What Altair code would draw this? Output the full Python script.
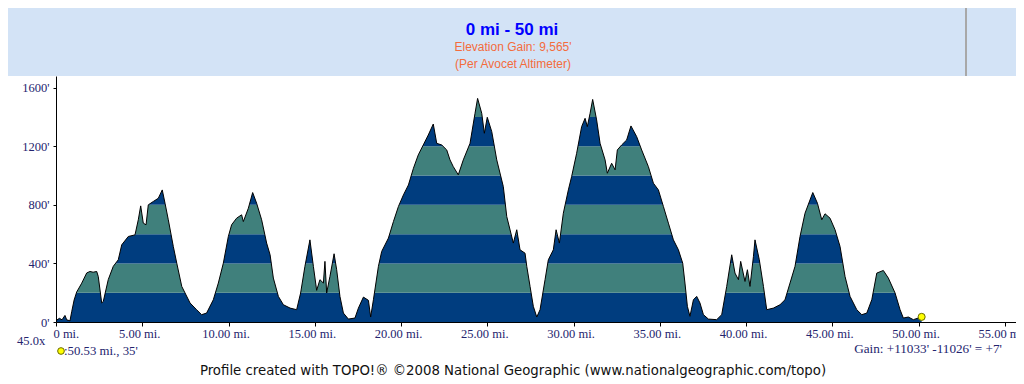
import altair as alt
import pandas as pd

# ---- profile (miles, feet) ----
MILES = [0.00, 0.20, 0.35, 0.52, 0.62, 0.81, 0.91, 1.05, 1.20, 1.49, 1.78, 1.97, 2.15, 2.36, 2.45,
         2.65, 2.74, 3.03, 3.32, 3.61, 3.81, 4.19, 4.58, 4.77, 4.91, 5.06, 5.22, 5.35, 5.64, 5.93,
         6.16, 6.32, 6.51, 6.80, 7.00, 7.29, 7.77, 8.15, 8.44, 8.73, 9.12, 9.41, 9.70, 9.99, 10.18,
         10.47, 10.76, 10.86, 11.15, 11.40, 11.63, 11.92, 12.21, 12.41, 12.60, 12.89, 13.18, 13.57,
         13.95, 14.18, 14.43, 14.72, 14.92, 15.11, 15.30, 15.50, 15.59, 15.69, 15.88, 16.12, 16.27,
         16.46, 16.66, 16.95, 17.33, 17.53, 17.82, 18.11, 18.24, 18.40, 18.69, 18.88, 19.27, 19.56,
         19.85, 20.14, 20.43, 20.72, 21.00, 21.29, 21.58, 21.87, 22.07, 22.36, 22.65, 22.84, 23.03,
         23.32, 23.61, 24.00, 24.29, 24.44, 24.68, 24.83, 25.00, 25.26, 25.55, 25.93, 26.13, 26.51,
         26.71, 26.90, 27.19, 27.29, 27.48, 27.67, 27.87, 28.06, 28.35, 28.54, 28.83, 28.99, 29.18,
         29.41, 29.70, 29.89, 30.18, 30.47, 30.67, 30.80, 30.96, 31.11, 31.34, 31.54, 31.83, 31.96,
         32.21, 32.41, 32.54, 32.79, 33.08, 33.33, 33.66, 33.95, 34.34, 34.63, 34.92, 35.21, 35.50,
         35.79, 36.08, 36.33, 36.46, 36.60, 36.75, 36.95, 37.14, 37.33, 37.53, 37.82, 38.30, 38.59,
         38.88, 39.17, 39.36, 39.56, 39.69, 39.94, 40.08, 40.23, 40.43, 40.52, 40.77, 41.01, 41.20,
         41.59, 41.97, 42.26, 42.55, 42.84, 43.13, 43.42, 43.87, 44.14, 44.39, 44.58, 44.87, 45.16,
         45.45, 45.74, 46.03, 46.42, 46.71, 47.00, 47.29, 47.58, 47.96, 48.25, 48.64, 48.93, 49.12,
         49.41, 49.70, 50.18]
ELEV = [10, 25, 15, 45, 15, 8, 70, 150, 205, 265, 335, 345, 340, 345, 311,
        130, 140, 290, 380, 425, 527, 584, 595, 698, 793, 675, 664, 800, 823, 845,
        902, 811, 698, 516, 402, 243, 130, 84, 50, 61, 152, 266, 402, 584, 664,
        709, 732, 686, 777, 884, 811, 698, 539, 459, 300, 175, 118, 95,
        84, 198, 380, 561, 380, 216, 289, 266, 414, 198, 311, 466, 357,
        175, 61, 20, 27, 95, 170, 148, 34, 152, 380, 482, 573, 686,
        789, 868, 936, 1050, 1141, 1209, 1277, 1352, 1220, 1209, 1175, 1107, 1061,
        1005, 1107, 1220, 1425, 1527, 1425, 1289, 1398, 1300, 1107, 925, 720, 539,
        630, 493, 470, 380, 243, 107, 34, 84, 289, 425, 493, 630, 539,
        743, 902, 993, 1152, 1334, 1391, 1334, 1425, 1520, 1380, 1220, 1107, 1016,
        1084, 1039, 1175, 1209, 1243, 1339, 1266, 1175, 1061, 948, 902, 789, 675,
        561, 493, 402, 266, 107, 39, 152, 175, 130, 50, 20, 16, 50,
        243, 459, 334, 289, 414, 277, 357, 243, 448, 561, 425, 243, 84,
        95, 118, 152, 266, 380, 584, 743, 884, 811, 698, 739, 709, 630,
        516, 311, 175, 84, 50, 61, 152, 334, 352, 300, 198, 84, 27,
        34, 16, 35]

BAND_LO = [0, 200, 400, 600, 800, 1000, 1200, 1400]
BAND_HI = [200, 400, 600, 800, 1000, 1200, 1400, 1600]
BAND_KIND = ["dark", "teal", "dark", "teal", "dark", "teal", "dark", "teal"]

X_TICKS = [0, 5, 10, 15, 20, 25, 30, 35, 40, 45, 50, 55]
Y_TICKS = [0, 200, 400, 600, 800, 1000, 1200, 1400, 1600]
Y_TOP = 1680

TITLE = "0 mi - 50 mi"
SUB1 = "Elevation Gain: 9,565'"
SUB2 = "(Per Avocet Altimeter)"
SCALE_TXT = "45.0x"
CURSOR_TXT = ":50.53 mi., 35'"
GAIN_TXT = "Gain: +11033' -11026' = +7'"
CREDIT_TXT = "Profile created with TOPO!\u00ae \u00a92008 National Geographic (www.nationalgeographic.com/topo)"

DARK = "#003D7F"
TEAL = "#40807C"
HEADER = "#D3E3F6"
NAVY = "#24246E"

prof = pd.DataFrame({"mile": MILES, "elev": ELEV, "top": [Y_TOP] * len(MILES)})
endpt = prof.tail(1)
bands = pd.DataFrame({"lo": BAND_LO, "hi": BAND_HI, "kind": BAND_KIND,
                      "x0": [MILES[0]] * len(BAND_LO), "x1": [MILES[-1]] * len(BAND_LO)})

W, H = 960, 246
xscale = alt.Scale(domain=[0, 55.65], nice=False, zero=False)
yscale = alt.Scale(domain=[0, Y_TOP], nice=False)

xaxis = alt.Axis(values=X_TICKS,
                 labelExpr="datum.value == 0 ? '0 mi.' : format(datum.value, '.2f') + ' mi.'",
                 labelFont="Liberation Serif", labelFontSize=12.5, labelColor=NAVY,
                 labelAlign={"condition": {"test": "datum.value == 0", "value": "left"}, "value": "center"},
                 labelOffset=-3, labelPadding=1, labelFlush=False, labelOverlap=False,
                 tickColor="#000000", tickSize=4, domainColor="#000000", domainWidth=1,
                 grid=False, title=None, zindex=1)
yaxis = alt.Axis(values=Y_TICKS, labelExpr="datum.value + \"'\"",
                 labelFont="Liberation Serif", labelFontSize=12.5, labelColor=NAVY,
                 labelPadding=4, tickColor="#000000", tickSize=3,
                 domainColor="#000000", domainWidth=1, grid=False, title=None, zindex=1)

one = alt.Data(values=[{}])

header = alt.Chart(one).mark_rect(color=HEADER).encode(
    x=alt.value(-48), x2=alt.value(W), y=alt.value(-68), y2=alt.value(0))
divider = alt.Chart(one).mark_rule(color="#A8A8A8", strokeWidth=2).encode(
    x=alt.value(910), y=alt.value(-68), y2=alt.value(0))

band_layer = alt.Chart(bands).mark_rect().encode(
    x=alt.X("x0:Q", scale=xscale, axis=xaxis),
    x2="x1:Q",
    y=alt.Y("lo:Q", scale=yscale, axis=yaxis),
    y2="hi:Q",
    color=alt.Color("kind:N", scale=alt.Scale(domain=["dark", "teal"], range=[DARK, TEAL]), legend=None),
)
sky = alt.Chart(prof).mark_area(color="white", opacity=1).encode(
    x=alt.X("mile:Q", scale=xscale), y=alt.Y("elev:Q", scale=yscale), y2="top:Q")
sky_edge = alt.Chart(endpt).mark_rule(color="white", strokeWidth=3).encode(
    x=alt.X("mile:Q", scale=xscale), y=alt.Y("elev:Q", scale=yscale), y2="top:Q")
outline = alt.Chart(prof).mark_line(color="#000000", strokeWidth=1).encode(
    x=alt.X("mile:Q", scale=xscale), y=alt.Y("elev:Q", scale=yscale))
enddot = alt.Chart(endpt).mark_point(filled=True, fill="#FFFF00", stroke="#6A6A00",
                                      strokeWidth=1, opacity=1, size=50).encode(
    x=alt.X("mile:Q", scale=xscale), y=alt.Y("elev:Q", scale=yscale))


def txt(s, x, y, **kw):
    return alt.Chart(one).mark_text(text=s, **kw).encode(x=alt.value(x), y=alt.value(y))


title = txt(TITLE, 456, -46, font="Liberation Sans", fontSize=17, fontWeight="bold",
            color="#0000FF", align="center", baseline="middle")
sub1 = txt(SUB1, 457, -29, font="Liberation Sans", fontSize=12, color="#F46C3C",
           align="center", baseline="middle")
sub2 = txt(SUB2, 457, -12, font="Liberation Sans", fontSize=12, color="#F46C3C",
           align="center", baseline="middle")
scale_t = txt(SCALE_TXT, -39, 265, font="Liberation Serif", fontSize=12.5, color=NAVY,
              align="left", baseline="middle")
legdot = alt.Chart(one).mark_point(filled=True, fill="#FFFF00", stroke="#6A6A00", strokeWidth=1,
                                   opacity=1, size=45).encode(x=alt.value(5), y=alt.value(275))
cursor_t = txt(CURSOR_TXT, 8, 275, font="Liberation Serif", fontSize=12.8, color=NAVY,
               align="left", baseline="middle")
gain_t = txt(GAIN_TXT, 946, 273, font="Liberation Serif", fontSize=13.2, color=NAVY,
             align="right", baseline="middle")
credit_t = txt(CREDIT_TXT, 457, 295, font="DejaVu Sans", fontSize=13.3, color="#111111",
               align="center", baseline="middle")

chart = alt.layer(
    header, divider, band_layer, sky, sky_edge, outline, enddot,
    title, sub1, sub2, scale_t, legdot, cursor_t, gain_t, credit_t,
).properties(
    width=W, height=H,
    autosize=alt.AutoSizeParams(type="none"),
    padding={"left": 48, "top": 68, "right": 0, "bottom": 56},
    background="white",
).configure_view(stroke=None)

chart.save("out.html", embed_options={"renderer": "svg", "actions": False})
